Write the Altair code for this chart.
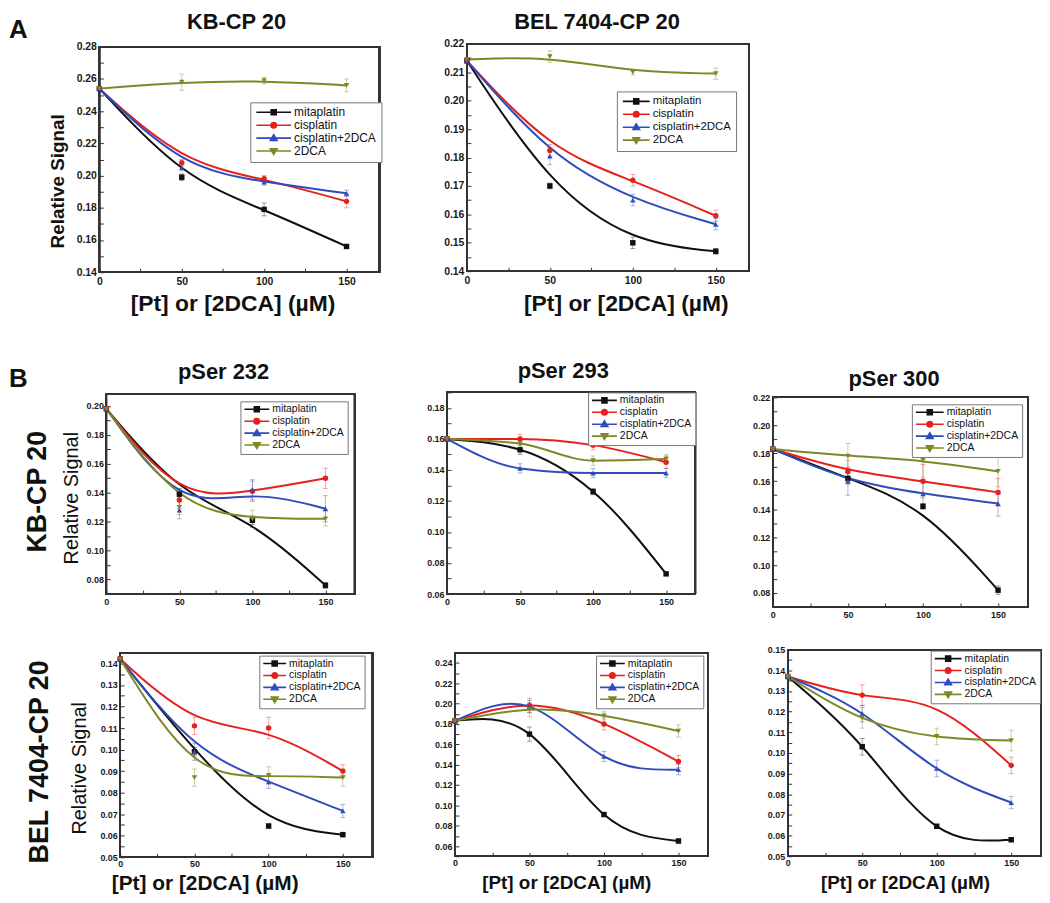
import json
import altair as alt
import pandas as pd

FONT = "Liberation Sans"
SERIES = ["mitaplatin", "cisplatin", "cisplatin+2DCA", "2DCA"]
COLORS = ["#111111", "#e5211d", "#2e4cbb", "#7e8924"]
SHAPES = ["square", "circle", "triangle-up", "triangle-down"]
DOSE = [0, 50, 100, 150]
X_MAJOR = [0, 50, 100, 150]
X_MINOR = [25, 75, 125]

# ---------------- Panel A : KB-CP 20 ----------------
A1_mita = [0.254, 0.199, 0.179, 0.156]
A1_cis = [0.254, 0.208, 0.198, 0.184]
A1_cdca = [0.254, 0.205, 0.196, 0.189]
A1_dca = [0.254, 0.258, 0.259, 0.256]
A1_mita_err = [0, 0.002, 0.004, 0.001]
A1_cis_err = [0, 0.002, 0.002, 0.004]
A1_cdca_err = [0, 0.002, 0.002, 0.002]
A1_dca_err = [0, 0.005, 0.002, 0.004]
A1_yticks = [0.14, 0.16, 0.18, 0.2, 0.22, 0.24, 0.26, 0.28]

# ---------------- Panel A : BEL 7404-CP 20 ----------------
A2_mita = [0.214, 0.170, 0.150, 0.147]
A2_cis = [0.214, 0.1825, 0.172, 0.1595]
A2_cdca = [0.214, 0.1805, 0.165, 0.1565]
A2_dca = [0.2145, 0.2155, 0.210, 0.2095]
A2_mita_err = [0, 0.001, 0.002, 0.001]
A2_cis_err = [0, 0.002, 0.002, 0.002]
A2_cdca_err = [0, 0.003, 0.002, 0.002]
A2_dca_err = [0, 0.002, 0.001, 0.002]
A2_yticks = [0.14, 0.15, 0.16, 0.17, 0.18, 0.19, 0.2, 0.21, 0.22]

# ---------------- Panel B : KB-CP 20, pSer 232 ----------------
B1_mita = [0.198, 0.139, 0.121, 0.076]
B1_cis = [0.198, 0.135, 0.141, 0.150]
B1_cdca = [0.198, 0.128, 0.142, 0.129]
B1_dca = [0.198, 0.130, 0.122, 0.122]
B1_mita_err = [0, 0.004, 0.003, 0.002]
B1_cis_err = [0, 0.006, 0.007, 0.007]
B1_cdca_err = [0, 0.006, 0.007, 0.009]
B1_dca_err = [0, 0.005, 0.006, 0.005]
B1_yticks = [0.08, 0.1, 0.12, 0.14, 0.16, 0.18, 0.2]

# ---------------- Panel B : KB-CP 20, pSer 293 ----------------
B2_mita = [0.160, 0.153, 0.126, 0.073]
B2_cis = [0.160, 0.160, 0.156, 0.145]
B2_cdca = [0.160, 0.141, 0.138, 0.138]
B2_dca = [0.160, 0.157, 0.146, 0.147]
B2_mita_err = [0, 0.003, 0.002, 0.001]
B2_cis_err = [0, 0.003, 0.003, 0.004]
B2_cdca_err = [0, 0.003, 0.003, 0.003]
B2_dca_err = [0, 0.003, 0.003, 0.003]
B2_yticks = [0.06, 0.08, 0.1, 0.12, 0.14, 0.16, 0.18]

# ---------------- Panel B : KB-CP 20, pSer 300 ----------------
B3_mita = [0.183, 0.162, 0.142, 0.082]
B3_cis = [0.183, 0.167, 0.160, 0.152]
B3_cdca = [0.183, 0.160, 0.151, 0.144]
B3_dca = [0.183, 0.178, 0.175, 0.167]
B3_mita_err = [0, 0.004, 0.002, 0.003]
B3_cis_err = [0, 0.008, 0.012, 0.010]
B3_cdca_err = [0, 0.010, 0.010, 0.009]
B3_dca_err = [0, 0.009, 0.012, 0.011]
B3_yticks = [0.08, 0.1, 0.12, 0.14, 0.16, 0.18, 0.2, 0.22]

# ---------------- Panel B : BEL 7404-CP 20, pSer 232 ----------------
B4_mita = [0.142, 0.099, 0.0645, 0.0605]
B4_cis = [0.142, 0.111, 0.110, 0.090]
B4_cdca = [0.142, 0.099, 0.085, 0.0715]
B4_dca = [0.142, 0.087, 0.088, 0.087]
B4_mita_err = [0, 0.002, 0.001, 0.001]
B4_cis_err = [0, 0.004, 0.005, 0.003]
B4_cdca_err = [0, 0.004, 0.003, 0.003]
B4_dca_err = [0, 0.004, 0.004, 0.004]
B4_yticks = [0.05, 0.06, 0.07, 0.08, 0.09, 0.1, 0.11, 0.12, 0.13, 0.14]

# ---------------- Panel B : BEL 7404-CP 20, pSer 293 ----------------
B5_mita = [0.183, 0.170, 0.091, 0.065]
B5_cis = [0.183, 0.198, 0.180, 0.143]
B5_cdca = [0.183, 0.197, 0.148, 0.135]
B5_dca = [0.183, 0.194, 0.188, 0.173]
B5_mita_err = [0, 0.007, 0.002, 0.002]
B5_cis_err = [0, 0.007, 0.006, 0.006]
B5_cdca_err = [0, 0.006, 0.005, 0.005]
B5_dca_err = [0, 0.007, 0.004, 0.006]
B5_yticks = [0.06, 0.08, 0.1, 0.12, 0.14, 0.16, 0.18, 0.2, 0.22, 0.24]

# ---------------- Panel B : BEL 7404-CP 20, pSer 300 ----------------
B6_mita = [0.137, 0.103, 0.0645, 0.058]
B6_cis = [0.137, 0.128, 0.121, 0.094]
B6_cdca = [0.137, 0.119, 0.0925, 0.076]
B6_dca = [0.137, 0.117, 0.108, 0.106]
B6_mita_err = [0, 0.004, 0.001, 0.001]
B6_cis_err = [0, 0.005, 0, 0.004]
B6_cdca_err = [0, 0.004, 0.004, 0.003]
B6_dca_err = [0, 0.005, 0.004, 0.005]
B6_cis_marker = [1, 1, 0, 1]
B6_yticks = [0.05, 0.06, 0.07, 0.08, 0.09, 0.1, 0.11, 0.12, 0.13, 0.14, 0.15]

ALL_MARKERS = [1, 1, 1, 1]

# ---------------- layout (page pixels) ----------------
M = 8             # page margin
W, H = 1041, 884  # whole drawing area
TICK_IN = 4       # inward tick length


def build_df(values, errors, markers):
    rows = []
    for s, vals, errs, mk in zip(SERIES, values, errors, markers):
        for x, v, e, m in zip(DOSE, vals, errs, mk):
            rows.append({"x": x, "y": v, "err": e, "series": s, "marker": m})
    return pd.DataFrame(rows)


def y_axis(majors, dom, fs, fx0, title=None, tcx=0, tcy=0, tfs=16, tfw="bold"):
    step = round(majors[1] - majors[0], 4)
    minors = [round(m - step / 2, 4) for m in majors] + [round(majors[-1] + step / 2, 4)]
    minors = [m for m in minors if dom[0] - 1e-9 <= m <= dom[1] + 1e-9]
    is_major = f"indexof({json.dumps(majors)}, datum.value) >= 0"
    gx = fx0 + TICK_IN
    kw = dict(
        orient="left", values=sorted(majors + minors),
        labelExpr=f"{is_major} ? format(datum.value, '.2f') : ''",
        offset=-gx, tickSize=TICK_IN, labelPadding=3, domain=False, grid=False,
        labelFont=FONT, labelFontSize=fs, labelFontWeight="bold", labelColor="#1a1a1a",
        labelFlush=False, labelOverlap=False, tickColor="#333", tickWidth=1,
    )
    if title:
        kw.update(title=title, titleX=(tcx - M) - gx, titleY=tcy - M, titleAngle=270,
                  titleBaseline="middle", titleAlign="center", titleFont=FONT, titleFontSize=tfs,
                  titleFontWeight=tfw, titleColor="#111")
    else:
        kw["title"] = None
    return alt.Axis(**kw)


def x_axis(fs, fy1, title=None, tcx=0, tby=0, tfs=20, lpad=4):
    is_major = f"indexof({json.dumps(X_MAJOR)}, datum.value) >= 0"
    gy = fy1 - TICK_IN
    kw = dict(
        orient="bottom", values=sorted(X_MAJOR + X_MINOR),
        labelExpr=f"{is_major} ? datum.label : ''",
        offset=gy - H, tickSize=TICK_IN, labelPadding=lpad, domain=False, grid=False,
        labelFont=FONT, labelFontSize=fs, labelFontWeight="bold", labelColor="#1a1a1a",
        labelFlush=False, labelOverlap=False, tickColor="#333", tickWidth=1,
    )
    if title:
        kw.update(title=title, titleX=tcx - M, titleY=(tby - M) - gy, titleAngle=0,
                  titleBaseline="alphabetic", titleAlign="center", titleFont=FONT,
                  titleFontSize=tfs, titleFontWeight="bold", titleColor="#111")
    else:
        kw["title"] = None
    return alt.Axis(**kw)


def legend_paths(L):
    # a short line with the series marker in the middle (unit square -1..1)
    h = round(5.0 / L, 3)
    c = round(h * 1.1, 3)
    t = round(h * 1.35, 3)
    t2 = round(t * 0.7, 3)
    return [
        f"M-1,0H1M-{h},-{h}H{h}V{h}H-{h}Z",
        f"M-1,0H1M{c},0A{c},{c} 0 1,1 -{c},0A{c},{c} 0 1,1 {c},0Z",
        f"M-1,0H1M0,-{t}L{t},{t2}H-{t}Z",
        f"M-1,0H1M0,{t}L{t},-{t2}H-{t}Z",
    ]


def panel(df, frame, ydom, yspec, xspec, leg_cfg, interp):
    fx0, fy0, fx1, fy1 = [v - M for v in frame]
    lx, ly, L, fs, pad = leg_cfg
    xs = alt.Scale(domain=[0, 170], range=[fx0, fx1], nice=False, zero=False)
    ys = alt.Scale(domain=ydom, range=[fy1, fy0], nice=False, zero=False)
    yaxis = y_axis(yspec["ticks"], ydom, yspec["fs"], fx0, yspec.get("title"),
                   yspec.get("cx", 0), yspec.get("cy", 0), yspec.get("tfs", 16),
                   yspec.get("tfw", "bold"))
    xaxis = x_axis(xspec["fs"], fy1, xspec.get("title"), xspec.get("cx", 0),
                   xspec.get("by", 0), xspec.get("tfs", 20), xspec.get("lpad", 4))
    X = alt.X("x:Q", scale=xs, axis=xaxis)
    # reversed domain order keeps this (legend-less) scale apart from the legend scales
    color = alt.Color("series:N", scale=alt.Scale(domain=SERIES[::-1], range=COLORS[::-1]),
                      legend=None)
    base = alt.Chart(df)
    err = base.transform_filter("datum.err > 0").transform_calculate(
        lo="datum.y - datum.err", hi="datum.y + datum.err")
    layers = [
        base.mark_rect(fillOpacity=0, stroke="#333", strokeWidth=1.4).encode(
            x=alt.X(datum=0, type="quantitative", scale=xs, axis=xaxis),
            x2=alt.X2(datum=170),
            y=alt.Y(datum=ydom[0], type="quantitative", scale=ys, axis=yaxis),
            y2=alt.Y2(datum=ydom[1])),
        err.mark_rule(strokeWidth=1, opacity=0.4).encode(
            x=X, y=alt.Y("lo:Q", scale=ys, axis=yaxis), y2="hi:Q", color=color),
        err.mark_tick(orient="horizontal", size=5, thickness=1, opacity=0.4).encode(
            x=X, y=alt.Y("lo:Q", scale=ys, axis=yaxis), color=color),
        err.mark_tick(orient="horizontal", size=5, thickness=1, opacity=0.4).encode(
            x=X, y=alt.Y("hi:Q", scale=ys, axis=yaxis), color=color),
        base.mark_line(strokeWidth=2, interpolate=interp).encode(
            x=X, y=alt.Y("y:Q", scale=ys, axis=yaxis), color=color),
    ]
    for s, shp in zip(SERIES, SHAPES):
        layers.append(
            base.transform_filter(f"datum.marker == 1 && datum.series == '{s}'")
            .mark_point(filled=True, size=30, opacity=1, shape=shp)
            .encode(x=X, y=alt.Y("y:Q", scale=ys, axis=yaxis), color=color))
    leg = alt.Legend(
        title=None, orient="none", legendX=fx0 + lx, legendY=fy0 + ly, direction="vertical",
        symbolSize=L * L, symbolStrokeWidth=1.6, clipHeight=10, rowPadding=1, padding=pad,
        labelFont=FONT, labelFontSize=fs, labelColor="#111", labelOffset=2, labelLimit=300,
        strokeColor="#777", fillColor="white", cornerRadius=0,
    )
    # legend-only layer (no data drawn): symbols are a line with the series marker
    layers.append(
        base.transform_filter("false")
        .mark_point(filled=True, size=L * L, opacity=1, strokeWidth=1.6)
        .encode(x=X, y=alt.Y("y:Q", scale=ys, axis=yaxis),
                fill=alt.Fill("series:N", scale=alt.Scale(domain=SERIES, range=COLORS), legend=leg),
                stroke=alt.Stroke("series:N", scale=alt.Scale(domain=SERIES, range=COLORS), legend=leg),
                shape=alt.Shape("series:N", scale=alt.Scale(domain=SERIES, range=legend_paths(L)),
                                legend=leg)))
    return alt.layer(*layers)


def label(text, px, py, size, angle=0, align="center", baseline="alphabetic"):
    df = pd.DataFrame({"t": [text]})
    return alt.Chart(df).mark_text(
        font=FONT, fontSize=size, fontWeight="bold", align=align, baseline=baseline,
        angle=angle, color="#111").encode(
        text="t:N", x=alt.value(px - M), y=alt.value(py - M))


XT = "[Pt] or [2DCA] (µM)"

pA1 = panel(build_df([A1_mita, A1_cis, A1_cdca, A1_dca],
                     [A1_mita_err, A1_cis_err, A1_cdca_err, A1_dca_err], [ALL_MARKERS] * 4),
            (100, 42, 382, 269), [0.14, 0.28],
            dict(ticks=A1_yticks, fs=10.5, title="Relative Signal", cx=58, cy=177, tfs=19),
            dict(fs=10.5, title=XT, cx=234, by=308, tfs=23),
            (152, 56, 35, 12, 5), "basis")
pA2 = panel(build_df([A2_mita, A2_cis, A2_cdca, A2_dca],
                     [A2_mita_err, A2_cis_err, A2_cdca_err, A2_dca_err], [ALL_MARKERS] * 4),
            (470, 39, 754, 268), [0.14, 0.22],
            dict(ticks=A2_yticks, fs=10.5),
            dict(fs=10.5, title=XT, cx=630, by=308, tfs=23),
            (151, 48, 27, 11.5, 5), "basis")
pB1 = panel(build_df([B1_mita, B1_cis, B1_cdca, B1_dca],
                     [B1_mita_err, B1_cis_err, B1_cdca_err, B1_dca_err], [ALL_MARKERS] * 4),
            (107, 392, 357, 593), [0.07, 0.208],
            dict(ticks=B1_yticks, fs=9, title="Relative Signal", cx=72, cy=496, tfs=20,
                 tfw="normal"),
            dict(fs=9), (135, 7, 25, 10.5, 3), "basis")
pB2 = panel(build_df([B2_mita, B2_cis, B2_cdca, B2_dca],
                     [B2_mita_err, B2_cis_err, B2_cdca_err, B2_dca_err], [ALL_MARKERS] * 4),
            (450, 390, 700, 593), [0.06, 0.19],
            dict(ticks=B2_yticks, fs=9), dict(fs=9), (142, 0, 25, 10.5, 3), "monotone")
pB3 = panel(build_df([B3_mita, B3_cis, B3_cdca, B3_dca],
                     [B3_mita_err, B3_cis_err, B3_cdca_err, B3_dca_err], [ALL_MARKERS] * 4),
            (778, 395, 1035, 606), [0.07, 0.22],
            dict(ticks=B3_yticks, fs=9), dict(fs=9), (140, 7, 28, 10.5, 3), "basis")
pB4 = panel(build_df([B4_mita, B4_cis, B4_cdca, B4_dca],
                     [B4_mita_err, B4_cis_err, B4_cdca_err, B4_dca_err], [ALL_MARKERS] * 4),
            (121, 652, 375, 858), [0.05, 0.145],
            dict(ticks=B4_yticks, fs=9, title="Relative Signal", cx=80, cy=768, tfs=20,
                 tfw="normal"),
            dict(fs=9, title=XT, cx=206, by=890, tfs=21, lpad=2),
            (140, 3, 23, 10.5, 3), "basis")
pB5 = panel(build_df([B5_mita, B5_cis, B5_cdca, B5_dca],
                     [B5_mita_err, B5_cis_err, B5_cdca_err, B5_dca_err], [ALL_MARKERS] * 4),
            (458, 652, 713, 857), [0.05, 0.25],
            dict(ticks=B5_yticks, fs=9),
            dict(fs=9, title=XT, cx=570, by=889, tfs=19, lpad=2),
            (142, 3, 25, 10.5, 3), "natural")
pB6 = panel(build_df([B6_mita, B6_cis, B6_cdca, B6_dca],
                     [B6_mita_err, B6_cis_err, B6_cdca_err, B6_dca_err],
                     [ALL_MARKERS, B6_cis_marker, ALL_MARKERS, ALL_MARKERS]),
            (793, 649, 1048, 857), [0.05, 0.15],
            dict(ticks=B6_yticks, fs=9),
            dict(fs=9, title=XT, cx=911, by=889, tfs=19, lpad=2),
            (144, 1, 27, 10.5, 3), "natural")

texts = [
    label("A", 9, 33, 26, align="left"),
    label("KB-CP 20", 238, 24, 22),
    label("BEL 7404-CP 20", 601, 24, 22),
    label("B", 9, 385, 26, align="left"),
    label("pSer 232", 225, 377, 22),
    label("pSer 293", 567, 375, 22),
    label("pSer 300", 900, 384, 22),
    label("KB-CP 20", 38, 490, 27, angle=270, baseline="middle"),
    label("BEL 7404-CP 20", 40, 762, 27, angle=270, baseline="middle"),
]

chart = alt.layer(pA1, pA2, pB1, pB2, pB3, pB4, pB5, pB6, *texts).resolve_scale(
    x="independent", y="independent", color="independent",
    fill="independent", stroke="independent", shape="independent",
).resolve_axis(x="independent", y="independent").properties(
    width=W, height=H, padding=0, background="white"
).configure_view(strokeWidth=0)

chart.save("out.html", embed_options={"renderer": "svg", "actions": False})
